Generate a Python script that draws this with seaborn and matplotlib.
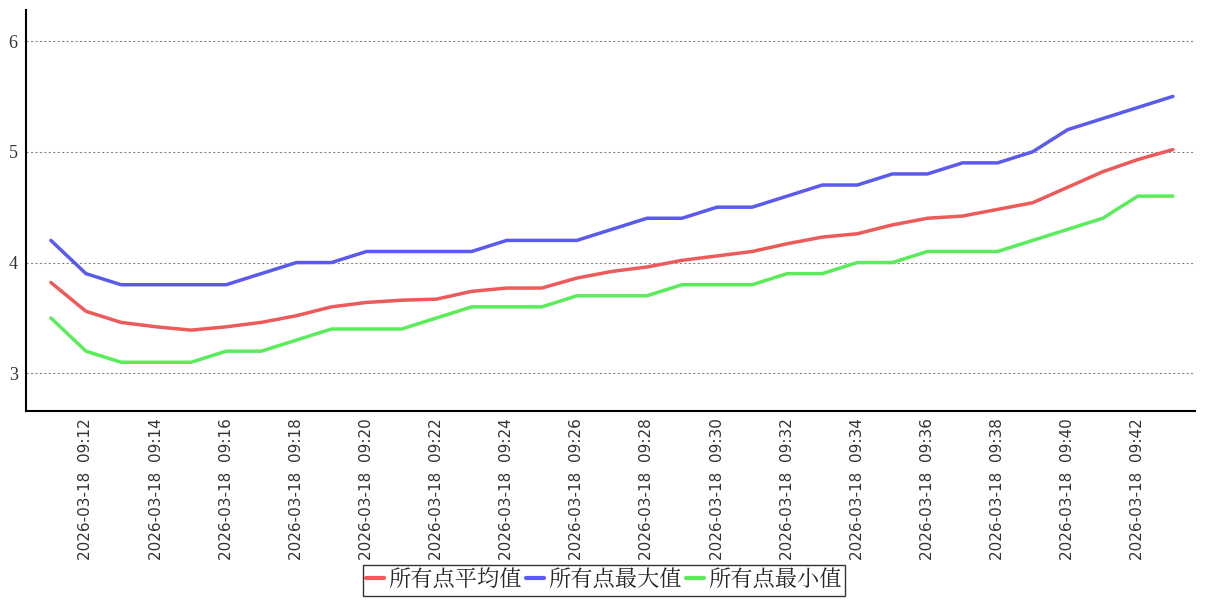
import matplotlib
matplotlib.use("Agg")
import matplotlib.pyplot as plt
import seaborn as sns
import pandas as pd
import numpy as np

times = [f"2026-03-18  09:{m:02d}" for m in range(11, 44)]
avg_vals = [3.82, 3.56, 3.46, 3.42, 3.39, 3.42, 3.46, 3.52, 3.60, 3.64, 3.66,
            3.67, 3.74, 3.77, 3.77, 3.86, 3.92, 3.96, 4.02, 4.06, 4.10, 4.17,
            4.23, 4.26, 4.34, 4.40, 4.42, 4.48, 4.54, 4.68, 4.82, 4.93, 5.02]
max_vals = [4.2, 3.9, 3.8, 3.8, 3.8, 3.8, 3.9, 4.0, 4.0, 4.1, 4.1, 4.1, 4.1,
            4.2, 4.2, 4.2, 4.3, 4.4, 4.4, 4.5, 4.5, 4.6, 4.7, 4.7, 4.8, 4.8,
            4.9, 4.9, 5.0, 5.2, 5.3, 5.4, 5.5]
min_vals = [3.5, 3.2, 3.1, 3.1, 3.1, 3.2, 3.2, 3.3, 3.4, 3.4, 3.4, 3.5, 3.6,
            3.6, 3.6, 3.7, 3.7, 3.7, 3.8, 3.8, 3.8, 3.9, 3.9, 4.0, 4.0, 4.1,
            4.1, 4.1, 4.2, 4.3, 4.4, 4.6, 4.6]
series_names = ["所有点平均值", "所有点最大值", "所有点最小值"]
colors = ["#ec5a5a", "#5a5aec", "#5aec5a"]
y_ticks = [3, 4, 5, 6]

sns.set_theme(style="white")
plt.rcParams['font.family'] = ['Noto Sans CJK SC', 'DejaVu Sans']

idx = np.arange(len(times))
df = pd.concat([
    pd.DataFrame({"x": idx, "y": vals, "series": name})
    for name, vals in zip(series_names, [avg_vals, max_vals, min_vals])
])

fig = plt.figure(figsize=(12.07, 6.0), dpi=100)
ax = fig.add_axes([26/1207, 1 - 411/600, (1195 - 26)/1207, (411 - 10)/600])

sns.lineplot(data=df, x="x", y="y", hue="series", palette=colors,
             hue_order=series_names, linewidth=2.5, ax=ax, legend=False)

ax.set_xlim(-0.71, 32.63)
ax.set_ylim(2.66, 6.28)
ax.set_yticks(y_ticks)
ax.set_yticklabels([str(t) for t in y_ticks], family='Liberation Serif', fontsize=13, color='#333333')
tick_pos = idx[1::2]
ax.set_xticks(tick_pos)
ax.set_xticklabels([times[i] for i in tick_pos], rotation=90, family='DejaVu Sans',
                   fontsize=11, color='#333333')
ax.tick_params(axis='x', length=3, width=0.8, color='#999999', pad=2)
ax.tick_params(axis='y', length=0, pad=6)
ax.set_xlabel("")
ax.set_ylabel("")

ax.yaxis.grid(True, linestyle=(0, (2, 2)), color='#888888', linewidth=0.8)
ax.xaxis.grid(False)
for side in ['top', 'right']:
    ax.spines[side].set_visible(False)
ax.spines['left'].set_color('black')
ax.spines['left'].set_linewidth(1.5)
ax.spines['bottom'].set_color('black')
ax.spines['bottom'].set_linewidth(1.5)

from matplotlib.lines import Line2D
handles = [Line2D([0], [0], color=c, lw=3) for c in colors]
leg = fig.legend(handles, series_names, loc='lower center', bbox_to_anchor=(604/1207, 0.0),
                 ncol=3, frameon=True, fancybox=False, edgecolor='black',
                 handlelength=0.8, handletextpad=0.2, columnspacing=0.2,
                 borderpad=0.15, borderaxespad=0.2,
                 prop={'family': ['Noto Serif CJK SC', 'Noto Sans CJK SC'], 'size': 16})
leg.get_frame().set_linewidth(1.0)

fig.savefig("out.png", dpi=100)
